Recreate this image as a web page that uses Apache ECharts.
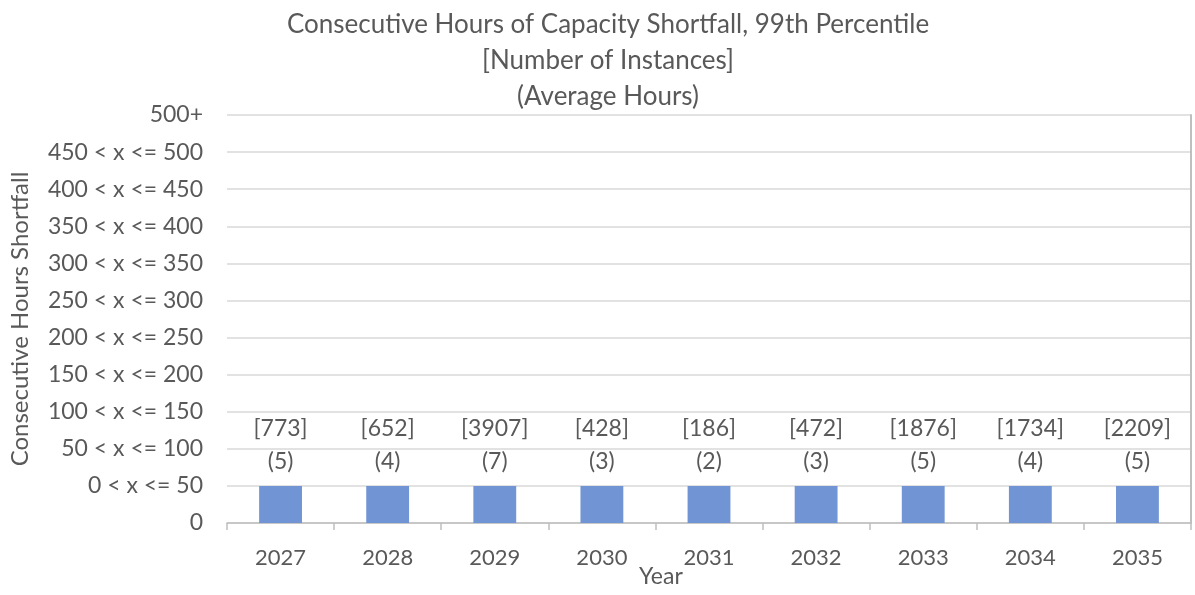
<!DOCTYPE html>
<html>
<head>
<meta charset="utf-8">
<title>Consecutive Hours of Capacity Shortfall</title>
<script src="https://cdn.jsdelivr.net/npm/echarts@6/dist/echarts.min.js"></script>
<style>
    html, body { margin: 0; padding: 0; background: #fff; }
    #chart { width: 1195px; height: 595px; }
</style>
</head>
<body>
<div id="chart"></div>
<script>
// data
const years = [ '2027', '2028', '2029', '2030', '2031', '2032', '2033', '2034', '2035' ];
const bucketLevel = [ 1, 1, 1, 1, 1, 1, 1, 1, 1 ];          // index into bucketLabels
const instances = [ 773, 652, 3907, 428, 186, 472, 1876, 1734, 2209 ];
const avgHours = [ 5, 4, 7, 3, 2, 3, 5, 4, 5 ];
const bucketLabels = [ '0', '0 < x <= 50', '50 < x <= 100', '100 < x <= 150', '150 < x <= 200',
    '200 < x <= 250', '250 < x <= 300', '300 < x <= 350', '350 < x <= 400', '400 < x <= 450',
    '450 < x <= 500', '500+' ];

const textColor = '#595959';
const lineColor = '#bfbfbf';
const font = 'Lato, "Open Sans", sans-serif';

const chartContext = {
    draw() {
        const c = echarts.init( document.getElementById( 'chart' ) );
        const option = {
            animation: false,
            textStyle: { fontFamily: font, color: textColor },
            title: {
                text: 'Consecutive Hours of Capacity Shortfall, 99th Percentile\n[Number of Instances]\n(Average Hours)',
                left: 603,
                textAlign: 'center',
                top: 2,
                textStyle: { fontFamily: font, fontSize: 26, fontWeight: 'normal', color: textColor, lineHeight: 36 }
            },
            grid: { left: 227, right: 4, top: 115, bottom: 72, containLabel: false },
            xAxis: {
                type: 'category',
                data: years,
                axisLine: { lineStyle: { color: lineColor, width: 1.5 } },
                axisTick: { show: true, length: 7, lineStyle: { color: lineColor, width: 1.5 } },
                axisLabel: { color: textColor, fontSize: 22, fontFamily: font, margin: 24 }
            },
            yAxis: [ {
                type: 'value',
                min: 0,
                max: bucketLabels.length - 1,
                interval: 1,
                name: 'Consecutive Hours Shortfall',
                nameLocation: 'middle',
                nameGap: 195,
                nameTextStyle: { color: textColor, fontSize: 24, fontFamily: font },
                axisLine: { show: false },
                axisTick: { show: false },
                axisLabel: {
                    color: textColor, fontSize: 23, fontFamily: font, margin: 24,
                    formatter: v => bucketLabels[v] ?? ''
                },
                splitLine: { lineStyle: { color: '#d9d9d9', width: 1.5 } }
            }, {
                // right edge line, as in the original
                type: 'value',
                min: 0,
                max: bucketLabels.length - 1,
                interval: 1,
                position: 'right',
                axisLine: { show: true, lineStyle: { color: lineColor, width: 2 } },
                axisTick: { show: false },
                axisLabel: { show: false },
                splitLine: { show: false }
            } ],
            series: [ {
                type: 'bar',
                data: bucketLevel,
                barWidth: '40%',
                itemStyle: { color: '#7094d4' },
                label: {
                    show: true,
                    position: 'top',
                    distance: 8,
                    color: textColor,
                    fontSize: 23,
                    fontFamily: font,
                    lineHeight: 33,
                    formatter: p => '[' + instances[p.dataIndex] + ']\n(' + avgHours[p.dataIndex] + ')'
                }
            } ],
            graphic: [ {
                type: 'text',
                left: 639,
                top: 565,
                style: { text: 'Year', fill: textColor, fontSize: 23, fontFamily: font }
            } ]
        };
        c.setOption( option );
    }
};

!(function () {
    document.addEventListener( "DOMContentLoaded", function () {
        Object.values( chartContext ).forEach( f => f() );
    } );
})();
</script>
</body>
</html>
